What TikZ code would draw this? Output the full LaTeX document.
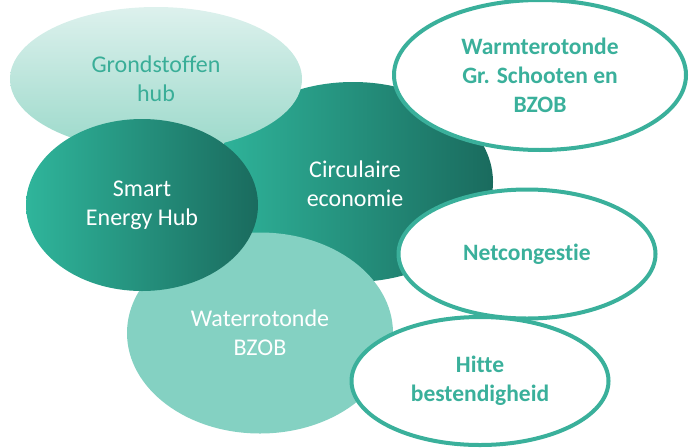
\documentclass[tikz,border=0pt]{standalone}
\usepackage{fontspec}
\setmainfont[Ligatures=NoCommon]{Carlito}
\usetikzlibrary{shapes.geometric}
\definecolor{tealA}{HTML}{2FB59B}
\definecolor{tealB}{HTML}{1A6B5E}
\definecolor{lightA}{HTML}{DDF1ED}
\definecolor{lightB}{HTML}{9BD9CA}
\definecolor{waterC}{HTML}{84D1C2}
\definecolor{lineC}{HTML}{3AB09B}
\definecolor{greyT}{HTML}{3AAE98}
\tikzset{
  blob/.style={ellipse, inner sep=0pt, outer sep=0pt, align=center,
    font=\fontsize{24}{29}\selectfont},
  darkblob/.style={blob, left color=tealA, right color=tealB, text=white},
  ring/.style={blob, draw=lineC, line width=4pt, fill=white, text=lineC,
    font=\fontsize{23.5}{29}\selectfont\bfseries},
}
\begin{document}
\begin{tikzpicture}[x=1pt,y=-1pt]
\useasboundingbox (0,0) rectangle (692,447);
\node[darkblob, minimum width=280, minimum height=200] (circ) at (353,182) {\hspace*{0pt}};
\node[blob, top color=lightA, bottom color=lightB, text=greyT, minimum width=292, minimum height=144] (grond) at (156,79) {Grondstoffen\\hub};
\node[font=\fontsize{24}{29}\selectfont, text=white, align=center] (circt) at (355,184) {Circulaire\\economie};
\node[blob, fill=waterC, text=white, minimum width=266, minimum height=201] (water) at (260,333) {Waterrotonde\\BZOB};
\node[darkblob, minimum width=232, minimum height=172] (smart) at (142,205) {Smart\\Energy Hub};
\node[ring, minimum width=257, minimum height=128] (hitte) at (480,381) {Hitte\\bestendigheid};
\node[ring, minimum width=292, minimum height=150] (warm) at (540,75) {Warmterotonde\\Gr. Schooten en\\BZOB};
\node[ring, minimum width=257, minimum height=129] (net) at (527,254) {Netcongestie};
\end{tikzpicture}
\end{document}
